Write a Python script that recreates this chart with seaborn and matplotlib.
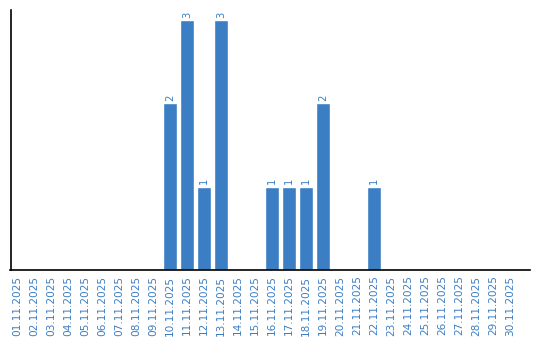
import matplotlib
matplotlib.use("Agg")
import matplotlib.pyplot as plt
import seaborn as sns
import pandas as pd

dates = [f"{d:02d}.11.2025" for d in range(1, 31)]
counts = [0, 0, 0, 0, 0, 0, 0, 0, 0, 2, 3, 1, 3, 0, 0, 1, 1, 1, 2, 0, 0, 1, 0, 0, 0, 0, 0, 0, 0, 0]

df = pd.DataFrame({"date": dates, "count": counts})

sns.set_style("white")
plt.rcParams['font.family'] = ['DejaVu Sans']
color = "#3b7ec4"

fig = plt.figure(figsize=(5.4, 3.4), dpi=100)
ax = fig.add_axes([10.5/540, 70/340, 519.5/540, 260/340])
sns.barplot(data=df, x="date", y="count", color=color, saturation=1, width=0.82, ax=ax)

for i, v in enumerate(counts):
    if v > 0:
        ax.text(i, v + 0.03, str(v), rotation=90, ha="center", va="bottom",
                fontsize=7.2, color=color)

ax.set_ylim(0, 3.12)
ax.set_xlim(-0.38, 30.18)
ax.set_yticks([])
ax.set_xlabel("")
ax.set_ylabel("")
ax.tick_params(axis="x", labelrotation=90, labelsize=7.6, labelcolor=color, length=0, pad=4)
for s in ["top", "right"]:
    ax.spines[s].set_visible(False)
for s in ["left", "bottom"]:
    ax.spines[s].set_color("black")
    ax.spines[s].set_linewidth(1.2)

fig.savefig("out.png", dpi=100)
